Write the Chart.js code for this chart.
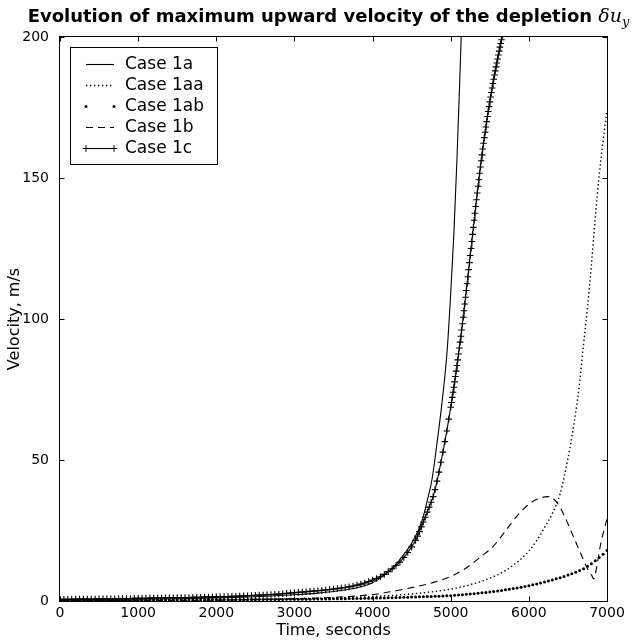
<!DOCTYPE html>
<html><head><meta charset="utf-8">
<script src="https://cdn.jsdelivr.net/npm/chart.js@4.4.0/dist/chart.umd.min.js"></script>
<style>html,body{margin:0;padding:0;background:#fff;}#wrap{width:633px;height:642px;}</style>
</head><body><div id="wrap"><canvas id="c" width="633" height="642"></canvas></div>
<script>
// ---------- data ----------
const titleMain = 'Evolution of maximum upward velocity of the depletion';
const titleMath = 'δu';
const titleSub = 'y';
const xLabel = 'Time, seconds';
const yLabel = 'Velocity, m/s';
const xTicks = [0, 1000, 2000, 3000, 4000, 5000, 6000, 7000];
const yTicks = [0, 50, 100, 150, 200];
const seriesNames = ['Case 1a', 'Case 1aa', 'Case 1ab', 'Case 1b', 'Case 1c'];

// Case 1a (solid)
const t1a = [0, 500, 1000, 1500, 2000, 2500, 3000, 3300, 3600, 3800, 4000, 4100, 4200, 4300, 4400, 4500, 4600, 4650, 4703, 4760, 4820, 4887, 4940, 4965, 4994, 5040, 5079, 5110, 5134, 5170];
const v1a = [0.4, 0.5, 0.6, 0.8, 1.1, 1.5, 2.2, 2.8, 3.7, 4.7, 6.5, 8.2, 10.3, 13, 16.5, 20.5, 26, 30, 36, 43, 55, 70, 84, 93, 106, 130, 156, 180, 200, 232];

// Case 1aa (dotted)
const t1aa = [0, 500, 1000, 1500, 2000, 2500, 3000, 3500, 4000, 4500, 5000, 5100, 5200, 5300, 5400, 5500, 5600, 5700, 5800, 5900, 6000, 6100, 6200, 6300, 6400, 6450, 6500, 6550, 6600, 6650, 6700, 6750, 6800, 6850, 6900, 6950, 7000];
const v1aa = [0.2, 0.25, 0.3, 0.4, 0.5, 0.62, 0.8, 1.1, 1.6, 2.5, 4.2, 4.8, 5.4, 6.2, 7.0, 8.1, 9.3, 10.8, 12.7, 14.9, 17.7, 21.4, 26.0, 31.0, 38.0, 43.8, 50.4, 58.1, 67.0, 77.5, 91, 104, 119, 136, 151, 163, 174];

// Case 1ab (dots)
const t1ab = [0,50,100,150,200,250,300,350,400,450,500,550,600,650,700,750,800,850,900,950,1000,1050,1100,1150,1200,1250,1300,1350,1400,1450,1500,1550,1600,1650,1700,1750,1800,1850,1900,1950,2000,2050,2100,2150,2200,2250,2300,2350,2400,2450,2500,2550,2600,2650,2700,2750,2800,2850,2900,2950,3000,3050,3100,3150,3200,3250,3300,3350,3400,3450,3500,3550,3600,3650,3700,3750,3800,3850,3900,3950,4000,4050,4100,4150,4200,4250,4300,4350,4400,4450,4500,4550,4600,4650,4700,4750,4800,4850,4900,4950,5000,5050,5100,5150,5200,5250,5300,5350,5400,5450,5500,5550,5600,5650,5700,5750,5800,5850,5900,5950,6000,6050,6100,6150,6200,6250,6300,6350,6400,6450,6500,6550,6600,6650,6700,6750,6800,6850,6900,6950,7000];
const v1ab = [0.20,0.20,0.21,0.21,0.21,0.22,0.22,0.23,0.23,0.24,0.24,0.25,0.25,0.25,0.26,0.26,0.27,0.27,0.28,0.28,0.29,0.29,0.30,0.31,0.31,0.32,0.32,0.33,0.33,0.34,0.35,0.35,0.36,0.37,0.37,0.38,0.39,0.39,0.40,0.41,0.42,0.42,0.43,0.44,0.45,0.46,0.46,0.47,0.48,0.49,0.50,0.51,0.52,0.53,0.54,0.55,0.56,0.57,0.58,0.59,0.60,0.62,0.63,0.65,0.66,0.68,0.70,0.72,0.74,0.75,0.77,0.79,0.81,0.84,0.86,0.88,0.90,0.93,0.95,0.98,1.00,1.03,1.07,1.10,1.14,1.17,1.21,1.25,1.29,1.33,1.38,1.42,1.47,1.51,1.56,1.61,1.67,1.72,1.78,1.83,1.90,2.00,2.11,2.23,2.35,2.47,2.61,2.75,2.89,3.05,3.21,3.39,3.57,3.76,3.97,4.18,4.41,4.64,4.89,5.16,5.43,5.73,6.04,6.36,6.71,7.07,7.45,7.85,8.28,8.72,9.20,9.69,10.2,10.8,11.4,12.3,13.2,14.3,15.4,16.6,17.9];

// Case 1b (dashed)
const t1b = [0, 1000, 2000, 2500, 3000, 3500, 4000, 4350, 4780, 5000, 5207, 5400, 5548, 5700, 5847, 6000, 6146, 6250, 6360, 6450, 6530, 6658, 6750, 6808, 6830, 6850, 6880, 6914, 6960, 7000];
const v1b = [0.1, 0.15, 0.3, 0.5, 0.8, 1.3, 2.3, 3.9, 6.6, 8.7, 11.9, 16, 19.5, 24.8, 30.1, 34.3, 36.6, 37, 34.9, 30.5, 25.4, 17.2, 11.5, 8.9, 7.8, 9.5, 14, 19.5, 25, 29];

// Case 1c (line with + markers)
const t1c = [0,50,100,150,200,250,300,350,400,450,500,550,600,650,700,750,800,850,900,950,1000,1050,1100,1150,1200,1250,1300,1350,1400,1450,1500,1550,1600,1650,1700,1750,1800,1850,1900,1950,2000,2050,2100,2150,2200,2250,2300,2350,2400,2450,2500,2550,2600,2650,2700,2750,2800,2850,2900,2950,3000,3050,3100,3150,3200,3250,3300,3350,3400,3450,3500,3550,3600,3650,3700,3750,3800,3850,3900,3950,4000,4050,4100,4150,4200,4250,4300,4350,4400,4450,4500,4550,
 4575,4600,4625,4650,4675,4700,4725,4750,4775,4800,4825,4850,4875,4900,4925,4950,4975,5000,
 5010,5020,5030,5040,5050,5060,5070,5080,5090,5100,5110,5120,5130,5140,5150,5160,5170,5180,5190,5200,5210,5220,5230,5240,5250,5260,5270,5280,5290,5300,5310,5320,5330,5340,5350,5360,5370,5380,5390,5400,5410,5420,5430,5440,5450,5460,5470,5480,5490,5500,5510,5520,5530,5540,5550,5560,5570,5580,5590,5600,5610,5620,5630,5640,5650,5660,5670,5680,5690,5700];
const v1c = [0.60,0.61,0.63,0.64,0.66,0.67,0.69,0.70,0.72,0.73,0.75,0.77,0.79,0.80,0.82,0.84,0.86,0.88,0.90,0.92,0.94,0.96,0.99,1.01,1.03,1.05,1.08,1.10,1.13,1.15,1.18,1.21,1.23,1.26,1.29,1.32,1.35,1.38,1.41,1.45,1.48,1.52,1.56,1.60,1.65,1.70,1.75,1.81,1.87,1.93,2.00,2.07,2.14,2.22,2.30,2.38,2.48,2.59,2.70,2.82,2.94,3.05,3.16,3.28,3.40,3.52,3.64,3.77,3.90,4.06,4.23,4.40,4.59,4.79,5.00,5.30,5.62,5.98,6.40,6.87,7.39,7.98,8.60,9.45,10.4,11.4,12.6,13.8,15.4,17.2,19.2,21.5,
 23.0,24.6,26.3,28.0,29.7,31.5,33.3,35.0,37.0,39.5,42.5,45.7,49.2,52.8,56.5,60.3,64.5,68.7,
 70.4,72.2,74.0,75.8,77.7,79.6,81.5,83.5,85.5,87.6,89.7,91.8,93.9,96.1,98.3,100.6,102.9,105.3,107.7,110.1,112.5,115.0,117.5,120.0,122.5,125.0,127.5,130.0,132.5,135.0,137.5,139.9,142.3,144.7,147.1,149.4,151.7,153.9,156.1,158.2,160.3,162.3,164.3,166.2,168.1,170.0,171.8,173.6,175.3,177.0,178.7,180.3,181.9,183.5,185.0,186.5,188.0,189.4,190.8,192.2,193.6,195.0,196.4,197.7,199.0,200.3,201.6,202.9,204.2,205.5];

// ---------- chart ----------
const pts = (t, v) => t.map((x, i) => ({x: x, y: v[i]}));
const FONT = '"DejaVu Sans", sans-serif';

const framePlugin = {
  id: 'frame',
  afterDatasetsDraw(chart) {
    const {ctx, chartArea: a, scales} = chart;
    ctx.save();
    ctx.strokeStyle = '#000'; ctx.lineWidth = 1; ctx.setLineDash([]);
    const L = Math.round(a.left) - 0.5, R = Math.round(a.right) + 0.5, T = Math.round(a.top) - 0.5, B = Math.round(a.bottom) + 0.5;
    ctx.strokeRect(L, T, R - L, B - T);
    const tl = 5;
    ctx.beginPath();
    xTicks.forEach(v => {
      const px = Math.round(scales.x.getPixelForValue(v)) + 0.5;
      ctx.moveTo(px, B); ctx.lineTo(px, B - tl);
      ctx.moveTo(px, T); ctx.lineTo(px, T + tl);
    });
    yTicks.forEach(v => {
      const py = Math.round(scales.y.getPixelForValue(v)) + 0.5;
      ctx.moveTo(L, py); ctx.lineTo(L + tl, py);
      ctx.moveTo(R, py); ctx.lineTo(R - tl, py);
    });
    ctx.stroke();
    ctx.restore();
  }
};

const titlePlugin = {
  id: 'mtitle',
  afterDraw(chart) {
    const {ctx, chartArea: a} = chart;
    ctx.save();
    ctx.fillStyle = '#000'; ctx.textAlign = 'left'; ctx.textBaseline = 'alphabetic';
    const fMain = 'bold 18px ' + FONT, fMath = 'italic 19px "DejaVu Serif", serif', fSub = 'italic 13px "DejaVu Serif", serif';
    ctx.font = fMain; const w1 = ctx.measureText(titleMain + ' ').width;
    ctx.font = fMath; const w2 = ctx.measureText(titleMath).width;
    ctx.font = fSub; const w3 = ctx.measureText(titleSub).width;
    let x = (a.left + a.right) / 2 - (w1 + w2 + w3) / 2 - 5;
    const yb = 22;
    ctx.font = fMain; ctx.fillText(titleMain + ' ', x, yb); x += w1;
    ctx.font = fMath; ctx.fillText(titleMath, x, yb); x += w2;
    ctx.font = fSub; ctx.fillText(titleSub, x, yb + 4);
    ctx.restore();
  }
};

const legendPlugin = {
  id: 'mlegend',
  afterDraw(chart) {
    const ctx = chart.ctx;
    ctx.save();
    const bx = 70.5, by = 47.5, bw = 147, bh = 117;
    ctx.fillStyle = '#fff'; ctx.fillRect(bx, by, bw, bh);
    ctx.strokeStyle = '#000'; ctx.lineWidth = 1; ctx.setLineDash([]);
    ctx.strokeRect(bx, by, bw, bh);
    const x0 = 86, x1 = 114, tx = 125;
    chart.data.datasets.forEach((ds, i) => {
      const y = 64.5 + i * 21;
      ctx.strokeStyle = '#000'; ctx.fillStyle = '#000'; ctx.lineWidth = ds.borderWidth || 1;
      if (ds.showLine !== false) {
        ctx.setLineDash(ds.borderDash || []);
        ctx.beginPath(); ctx.moveTo(x0, y); ctx.lineTo(x1, y); ctx.stroke();
        ctx.setLineDash([]);
      }
      if (ds.pointRadius > 0) {
        [x0, x1].forEach(px => {
          if (ds.pointStyle === 'cross') {
            const r = ds.pointRadius;
            ctx.lineWidth = 1;
            ctx.beginPath(); ctx.moveTo(px - r, y); ctx.lineTo(px + r, y); ctx.moveTo(px, y - r); ctx.lineTo(px, y + r); ctx.stroke();
          } else {
            ctx.beginPath(); ctx.arc(px, y, ds.pointRadius, 0, Math.PI * 2); ctx.fill();
          }
        });
      }
      ctx.font = '17px ' + FONT; ctx.textBaseline = 'middle'; ctx.textAlign = 'left';
      ctx.fillText(ds.label, tx, y);
    });
    ctx.restore();
  }
};

const base = {fill: false, borderColor: '#000', backgroundColor: '#000', borderWidth: 1, pointRadius: 0};
const chart = new Chart(document.getElementById('c'), {
  type: 'line',
  data: {
    datasets: [
      Object.assign({}, base, {label: seriesNames[0], data: pts(t1a, v1a), cubicInterpolationMode: 'monotone', borderWidth: 1.1}),
      Object.assign({}, base, {label: seriesNames[1], data: pts(t1aa, v1aa), borderDash: [1.4, 2.6], borderWidth: 1.4, cubicInterpolationMode: 'monotone'}),
      Object.assign({}, base, {label: seriesNames[2], data: pts(t1ab, v1ab), showLine: false, pointRadius: 1.5, pointBorderWidth: 0, pointStyle: 'circle'}),
      Object.assign({}, base, {label: seriesNames[3], data: pts(t1b, v1b), borderDash: [7, 5], borderWidth: 1.1, cubicInterpolationMode: 'monotone'}),
      Object.assign({}, base, {label: seriesNames[4], data: pts(t1c, v1c), borderWidth: 1.1, pointRadius: 3.3, pointStyle: 'cross', pointBorderWidth: 1.1, pointBorderColor: '#000'})
    ]
  },
  options: {
    responsive: false, animation: false, devicePixelRatio: 1, events: [],
    layout: {padding: {top: 37, right: 26, left: 0, bottom: 0}},
    plugins: {legend: {display: false}, title: {display: false}, tooltip: {enabled: false}},
    scales: {
      x: {
        type: 'linear', min: 0, max: 7000,
        afterBuildTicks: s => { s.ticks = xTicks.map(v => ({value: v})); },
        afterFit: s => { s.height = 41; },
        grid: {display: false}, border: {display: false},
        ticks: {color: '#000', font: {family: FONT, size: 14}, padding: -4, maxRotation: 0, callback: v => String(v)},
        title: {display: true, text: xLabel, color: '#000', font: {family: FONT, size: 16}, padding: {top: 0, bottom: 2}}
      },
      y: {
        type: 'linear', min: 0, max: 200,
        afterBuildTicks: s => { s.ticks = yTicks.map(v => ({value: v})); },
        afterFit: s => { s.width = 60; },
        grid: {display: false}, border: {display: false},
        ticks: {color: '#000', font: {family: FONT, size: 14}, padding: 3, callback: v => String(v)},
        title: {display: true, text: yLabel, color: '#000', font: {family: FONT, size: 16}, padding: {top: 5, bottom: 0}}
      }
    }
  },
  plugins: [framePlugin, titlePlugin, legendPlugin]
});
</script></body></html>
